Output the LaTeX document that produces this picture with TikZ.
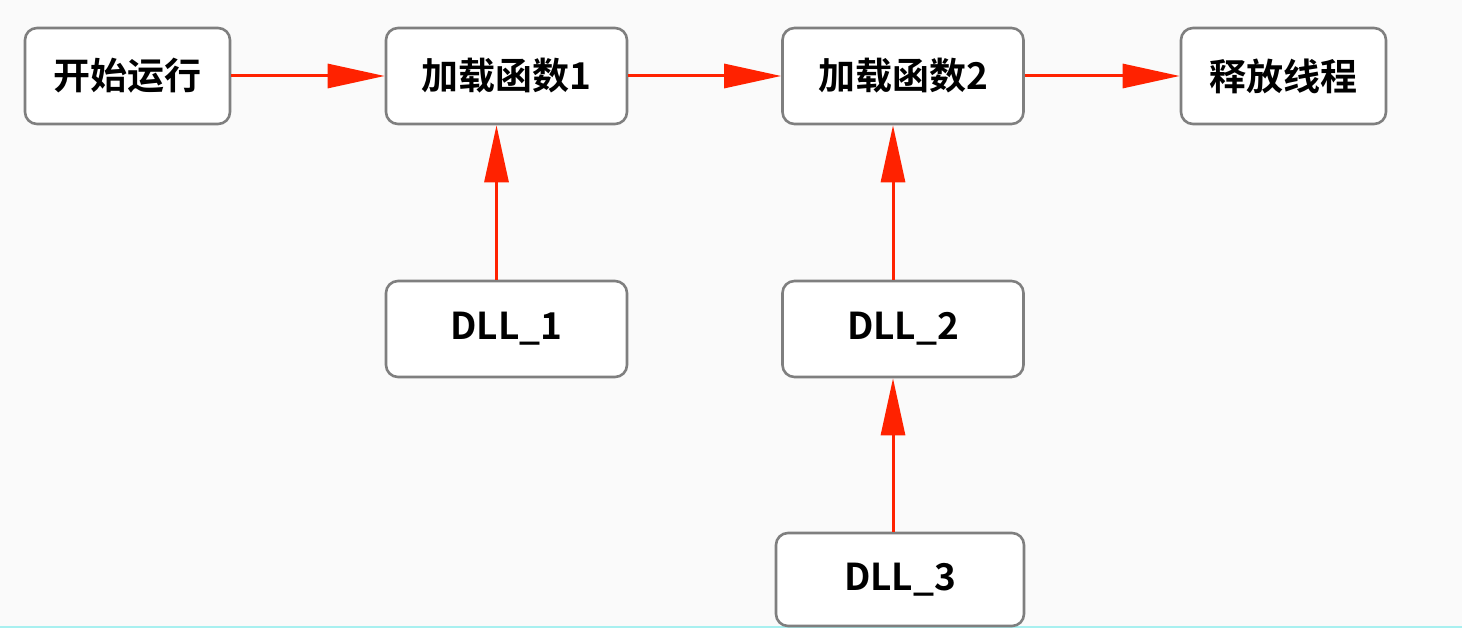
\documentclass[tikz,border=0pt]{standalone}
\usepackage{fontspec}
\setmainfont{Noto Sans CJK SC}[BoldFont={Noto Sans CJK SC Bold}]
\usetikzlibrary{arrows.meta}
\definecolor{bg}{HTML}{FAFAFA}
\definecolor{boxline}{HTML}{7F7F7F}
\definecolor{arr}{HTML}{FF2200}
\definecolor{cyanline}{HTML}{A8F0F0}
\begin{document}
\begin{tikzpicture}[x=1pt,y=-1pt,
  box/.style={draw=boxline,line width=2.6pt,fill=white,rounded corners=12pt,
    minimum height=96pt,inner sep=0pt,font=\fontsize{37}{42}\selectfont\bfseries},
  wbox/.style={box,minimum width=241pt},
  nbox/.style={box,minimum width=205pt},
  conn/.style={draw=arr,line width=3pt,-{Triangle[length=57pt,width=24pt]}}]
\useasboundingbox (0,0) rectangle (1462,628);
\fill[bg] (0,0) rectangle (1462,628);
\fill[cyanline] (0,626) rectangle (1462,628);
\node[nbox] (start) at (127.5,76) {开始运行};
\node[wbox] (f1) at (506.5,76) {加载函数1};
\node[wbox] (f2) at (903,76) {加载函数2};
\node[nbox] (rel) at (1283.5,76) {释放线程};
\node[wbox] (d1) at (506.5,329) {DLL\_1};
\node[wbox] (d2) at (903,329) {DLL\_2};
\node[box,minimum width=248pt,minimum height=93pt] (d3) at (900,579.5) {DLL\_3};
\draw[conn] (start.east) -- (f1.west);
\draw[conn] (f1.east) -- (f2.west);
\draw[conn] (f2.east) -- (rel.west);
\draw[conn] ([xshift=-10pt]d1.north) -- ([xshift=-10pt]f1.south);
\draw[conn] ([xshift=-10pt]d2.north) -- ([xshift=-10pt]f2.south);
\draw[conn] ([xshift=-7pt]d3.north) -- ([xshift=-10pt]d2.south);
\end{tikzpicture}
\end{document}
